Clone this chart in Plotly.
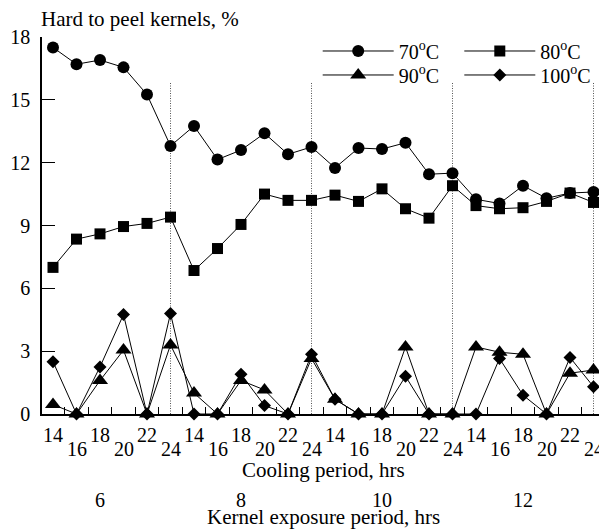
import plotly.graph_objects as go

# Experimental layout: 4 kernel exposure periods x 6 cooling periods
exposure_hrs = [6, 8, 10, 12]
cooling_hrs = [14, 16, 18, 20, 22, 24]

# Hard to peel kernels (%) for each drying temperature, in run order
pct_70 = [17.5, 16.7, 16.9, 16.55, 15.25, 12.8,
          13.75, 12.15, 12.6, 13.4, 12.4, 12.75,
          11.75, 12.7, 12.65, 12.95, 11.45, 11.5,
          10.25, 10.05, 10.9, 10.3, 10.55, 10.6]
pct_80 = [7.0, 8.35, 8.6, 8.95, 9.1, 9.4,
          6.85, 7.9, 9.05, 10.5, 10.2, 10.2,
          10.45, 10.15, 10.75, 9.8, 9.35, 10.9,
          9.95, 9.8, 9.85, 10.15, 10.55, 10.1]
pct_90 = [0.45, 0.0, 1.6, 3.05, 0.0, 3.3,
          1.0, 0.0, 1.6, 1.15, 0.0, 2.65,
          0.7, 0.0, 0.0, 3.2, 0.0, 0.0,
          3.2, 2.95, 2.85, 0.0, 1.95, 2.1]
pct_100 = [2.5, 0.0, 2.25, 4.75, 0.0, 4.8,
           0.0, 0.0, 1.9, 0.4, 0.0, 2.85,
           0.7, 0.0, 0.0, 1.8, 0.0, 0.0,
           0.0, 2.65, 0.9, 0.0, 2.7, 1.3]

FONT = "Times New Roman"

# (label, values, marker symbol, marker size, legend id, legend column, legend row)
series = [
    ("70<sup>o</sup>C", pct_70, "circle", 12, "legend", 0, 0),
    ("80<sup>o</sup>C", pct_80, "square", 11, "legend2", 1, 0),
    ("90<sup>o</sup>C", pct_90, "triangle-up", 14, "legend3", 0, 1),
    ("100<sup>o</sup>C", pct_100, "diamond", 10, "legend4", 1, 1),
]

n_cool = len(cooling_hrs)
n_runs = len(exposure_hrs) * n_cool
xpos = list(range(n_runs))

fig = go.Figure()
for name, vals, sym, size, leg, _, _ in series:
    fig.add_trace(go.Scatter(
        x=xpos, y=vals, name=name, mode="lines+markers",
        line=dict(color="black", width=1),
        marker=dict(symbol=sym, size=size, color="black"),
        cliponaxis=False, legend=leg, showlegend=True,
    ))

# dotted separators at the end of each exposure block
shapes = []
for g in range(len(exposure_hrs)):
    xb = (g + 1) * n_cool - 1
    shapes.append(dict(type="line", xref="x", yref="y", x0=xb, x1=xb,
                       y0=0, y1=15.85, layer="below",
                       line=dict(color="#555", width=1, dash="1px,1.5px")))

annotations = []
# cooling-period labels, staggered in two rows
for i in range(n_runs):
    c = cooling_hrs[i % n_cool]
    low = (i % 2 == 1)
    annotations.append(dict(x=i, y=0, xref="x", yref="y", text=str(c),
                            showarrow=False, yanchor="middle",
                            yshift=-35 if low else -21,
                            font=dict(family=FONT, size=20, color="black")))
# exposure-period labels under the 18 h position of each block
for g, e in enumerate(exposure_hrs):
    annotations.append(dict(x=g * n_cool + 2, y=0, xref="x", yref="y",
                            text=str(e), showarrow=False, yanchor="middle",
                            yshift=-86,
                            font=dict(family=FONT, size=20, color="black")))

annotations += [
    dict(x=(323 - 42) / 557, y=0, xref="paper", yref="y",
         text="Cooling period, hrs", showarrow=False, yanchor="middle",
         yshift=-56, font=dict(family=FONT, size=21, color="black")),
    dict(x=(323 - 42) / 557, y=0, xref="paper", yref="y",
         text="Kernel exposure period, hrs", showarrow=False, yanchor="middle",
         yshift=-103, font=dict(family=FONT, size=21, color="black")),
    dict(x=0, y=1, xref="paper", yref="paper", xanchor="left",
         yanchor="bottom", xshift=-3, yshift=4,
         text="Hard to peel kernels, %", showarrow=False,
         font=dict(family=FONT, size=21, color="black")),
]

# one single-entry legend per key, laid out as a 2 x 2 grid
legend_cols = [(317.7 - 42) / 557, (459.3 - 42) / 557]
legend_rows = [1.0146, 0.951]
legends = {}
for _, _, _, _, leg, col, row in series:
    legends[leg] = dict(orientation="v", xanchor="left", yanchor="top",
                        x=legend_cols[col], y=legend_rows[row],
                        itemwidth=71, bgcolor="rgba(0,0,0,0)", visible=True,
                        font=dict(family=FONT, size=20, color="black"))

fig.update_layout(
    width=599, height=529,
    margin=dict(l=42, r=0, t=37, b=115, autoexpand=False),
    showlegend=True,
    paper_bgcolor="white", plot_bgcolor="white",
    font=dict(family=FONT, size=20, color="black"),
    shapes=shapes, annotations=annotations,
    xaxis=dict(range=[-0.468, 23.234], showgrid=False, zeroline=False,
               showline=True, linecolor="black", linewidth=1.5,
               ticks="inside", ticklen=7, tickwidth=1, tickcolor="black",
               tickvals=[k + 0.5 for k in range(n_runs)],
               showticklabels=False),
    yaxis=dict(range=[0, 18], showgrid=False, zeroline=False,
               showline=True, linecolor="black", linewidth=1.5,
               ticks="inside", ticklen=13, tickwidth=1, tickcolor="black",
               tickvals=[0, 3, 6, 9, 12, 15, 18], ticklabelstandoff=6,
               tickfont=dict(family=FONT, size=20, color="black")),
    **legends,
)

fig.write_html("out.html")
